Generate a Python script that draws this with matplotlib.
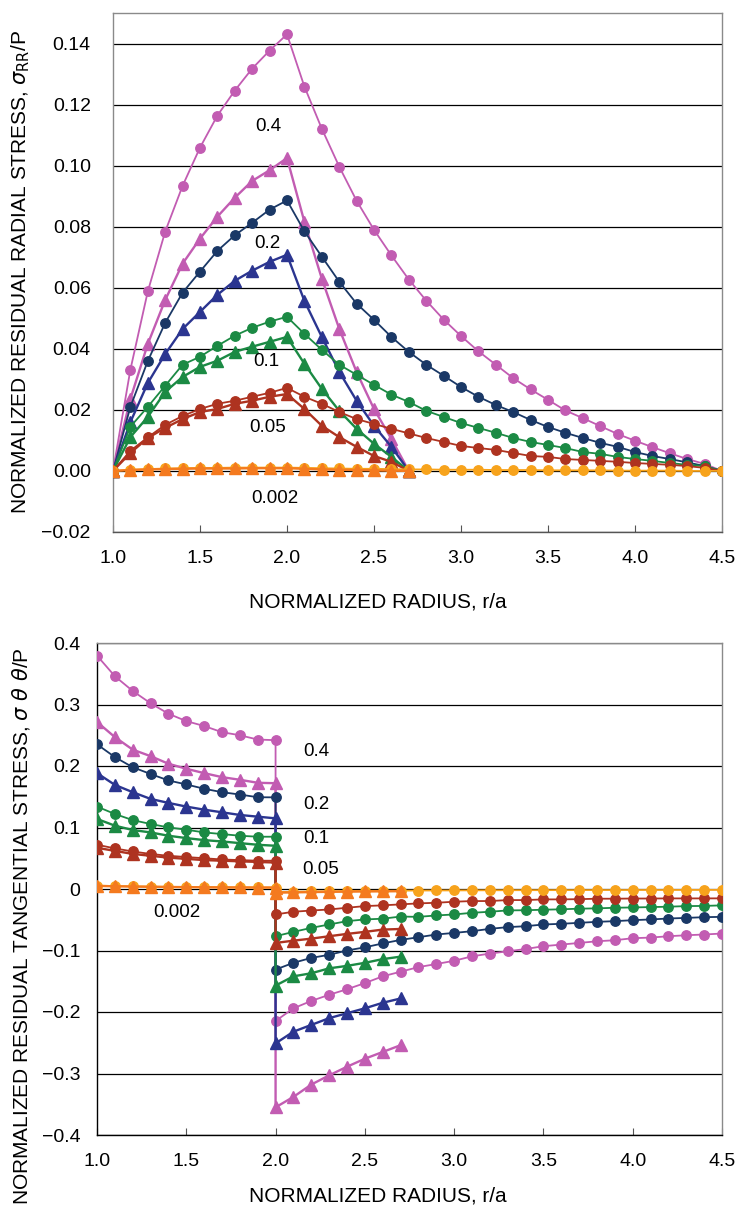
import numpy as np
import matplotlib
matplotlib.use("Agg")
import matplotlib.pyplot as plt

# ---------------- data ----------------
r_circ = np.round(np.arange(1.0, 4.51, 0.1), 1)      # outer radius 4.5
r_tri = np.round(np.arange(1.0, 2.71, 0.1), 1)       # outer radius 2.7
levels = ["0.4", "0.2", "0.1", "0.05", "0.002"]

# radial stress, circles (r = 1.0 .. 4.5)
rad_circ_04 = [0, 0.0332, 0.0588, 0.0784, 0.0934, 0.1059, 0.1164, 0.1246, 0.1318, 0.1377, 0.1430,
               0.1259, 0.1121, 0.0997, 0.0885, 0.0790, 0.0706, 0.0627, 0.0558, 0.0496, 0.0442,
               0.0392, 0.0348, 0.0304, 0.0267, 0.0233, 0.0198, 0.0173, 0.0147, 0.0121, 0.0099,
               0.0078, 0.0058, 0.0039, 0.0023, 0.0]
rad_circ_02 = [0, 0.0210, 0.0360, 0.0485, 0.0584, 0.0653, 0.0721, 0.0772, 0.0813, 0.0856, 0.0886,
               0.0785, 0.0702, 0.0620, 0.0548, 0.0495, 0.0439, 0.0390, 0.0348, 0.0312, 0.0275,
               0.0243, 0.0216, 0.0193, 0.0167, 0.0144, 0.0125, 0.0108, 0.0092, 0.0079, 0.0062,
               0.0049, 0.0039, 0.0028, 0.0016, 0.0]
rad_circ_01 = [0, 0.0145, 0.0210, 0.0279, 0.0348, 0.0374, 0.0410, 0.0443, 0.0469, 0.0489, 0.0505,
               0.0449, 0.0397, 0.0348, 0.0315, 0.0282, 0.0250, 0.0226, 0.0197, 0.0177, 0.0157,
               0.0141, 0.0125, 0.0108, 0.0095, 0.0085, 0.0075, 0.0062, 0.0056, 0.0046, 0.0039,
               0.0033, 0.0026, 0.0020, 0.0016, 0.0]
rad_circ_005 = [0, 0.0066, 0.0110, 0.0151, 0.0180, 0.0203, 0.0220, 0.0230, 0.0243, 0.0256, 0.0272,
                0.0243, 0.0220, 0.0193, 0.0170, 0.0154, 0.0138, 0.0123, 0.0108, 0.0095, 0.0082,
                0.0075, 0.0069, 0.0059, 0.0049, 0.0046, 0.0039, 0.0036, 0.0033, 0.0030, 0.0026,
                0.0023, 0.0020, 0.0016, 0.0010, 0.0]
rad_circ_0002 = [0, 0.0004, 0.0006, 0.0008, 0.0009, 0.0010, 0.0010, 0.0011, 0.0011, 0.0011, 0.0011,
                 0.0010, 0.0009, 0.0008, 0.0007, 0.0007, 0.0006, 0.0005, 0.0005, 0.0004, 0.0004,
                 0.0004, 0.0003, 0.0003, 0.0003, 0.0002, 0.0002, 0.0002, 0.0002, 0.0001, 0.0001,
                 0.0001, 0.0001, 0.0, 0.0, 0.0]

# radial stress, triangles (r = 1.0 .. 2.7)
rad_tri_04 = [0, 0.0236, 0.0416, 0.0560, 0.0679, 0.0761, 0.0833, 0.0895, 0.0950, 0.0985, 0.1025,
              0.0816, 0.0630, 0.0466, 0.0324, 0.0203, 0.0105, 0.0]
rad_tri_02 = [0, 0.0160, 0.0288, 0.0383, 0.0465, 0.0521, 0.0577, 0.0623, 0.0656, 0.0685, 0.0708,
              0.0557, 0.0439, 0.0325, 0.0230, 0.0148, 0.0079, 0.0]
rad_tri_01 = [0, 0.0111, 0.0177, 0.0259, 0.0308, 0.0341, 0.0361, 0.0390, 0.0407, 0.0423, 0.0439,
              0.0351, 0.0269, 0.0197, 0.0138, 0.0089, 0.0046, 0.0]
rad_tri_005 = [0, 0.0059, 0.0108, 0.0141, 0.0170, 0.0193, 0.0203, 0.0220, 0.0230, 0.0243, 0.0252,
               0.0203, 0.0148, 0.0111, 0.0079, 0.0049, 0.0030, 0.0]
rad_tri_0002 = [0, 0.0003, 0.0005, 0.0006, 0.0007, 0.0008, 0.0008, 0.0008, 0.0009, 0.0009, 0.0009,
                0.0007, 0.0005, 0.0004, 0.0003, 0.0002, 0.0001, 0.0]

# tangential stress: inner part r = 1.0 .. 2.0, outer part r = 2.0 .. outer radius
r_in = np.round(np.arange(1.0, 2.01, 0.1), 1)
r_out_circ = np.round(np.arange(2.0, 4.51, 0.1), 1)
r_out_tri = np.round(np.arange(2.0, 2.71, 0.1), 1)

tan_circ_04_in = [0.3795, 0.346, 0.322, 0.302, 0.285, 0.273, 0.265, 0.255, 0.250, 0.243, 0.242]
tan_circ_04_out = [-0.2146, -0.194, -0.182, -0.172, -0.163, -0.153, -0.1420, -0.1345, -0.127, -0.122,
                   -0.1167, -0.1095, -0.105, -0.1013, -0.0976, -0.093, -0.0904, -0.0877, -0.085,
                   -0.0833, -0.0800, -0.0790, -0.0768, -0.0752, -0.0740, -0.0724]
tan_circ_02_in = [0.2353, 0.2145, 0.198, 0.187, 0.1765, 0.170, 0.163, 0.1574, 0.1536, 0.1492, 0.149]
tan_circ_02_out = [-0.131, -0.120, -0.112, -0.107, -0.100, -0.0948, -0.0885, -0.0828, -0.0784, -0.074,
                   -0.0714, -0.0686, -0.0648, -0.062, -0.0605, -0.0577, -0.0566, -0.055, -0.0534,
                   -0.0523, -0.0507, -0.0495, -0.048, -0.047, -0.0458, -0.0453]
tan_circ_01_in = [0.134, 0.122, 0.112, 0.1057, 0.1002, 0.0964, 0.092, 0.0893, 0.0866, 0.085, 0.085]
tan_circ_01_out = [-0.0768, -0.0697, -0.0632, -0.0577, -0.0523, -0.0495, -0.0483, -0.0448, -0.0453,
                   -0.043, -0.0414, -0.0387, -0.037, -0.0348, -0.0345, -0.0337, -0.0330, -0.032,
                   -0.0315, -0.0305, -0.0300, -0.0294, -0.0288, -0.0278, -0.0275, -0.0266]
tan_circ_005_in = [0.072, 0.066, 0.061, 0.057, 0.054, 0.052, 0.050, 0.048, 0.047, 0.046, 0.046]
tan_circ_005_out = [-0.0414, -0.037, -0.035, -0.0333, -0.0305, -0.0278, -0.0266, -0.025, -0.0234,
                    -0.0224, -0.0207, -0.0196, -0.0196, -0.018, -0.018, -0.0169, -0.0169, -0.0165,
                    -0.0158, -0.0158, -0.0155, -0.0155, -0.0153, -0.0153, -0.0153, -0.0152]
tan_circ_0002_in = [0.0055, 0.0048, 0.0043, 0.0039, 0.0035, 0.0032, 0.0030, 0.0028, 0.0026, 0.0025, 0.0024]
tan_circ_0002_out = [-0.0050, -0.0045, -0.0040, -0.0037, -0.0034, -0.0031, -0.0029, -0.0027, -0.0025,
                     -0.0024, -0.0023, -0.0022, -0.0021, -0.0020, -0.0019, -0.0019, -0.0018, -0.0018,
                     -0.0017, -0.0017, -0.0016, -0.0016, -0.0016, -0.0015, -0.0015, -0.0015]

tan_tri_04_in = [0.2716, 0.247, 0.2266, 0.216, 0.2037, 0.1955, 0.1884, 0.1819, 0.1776, 0.1727, 0.172]
tan_tri_04_out = [-0.355, -0.338, -0.318, -0.303, -0.289, -0.276, -0.265, -0.254]
tan_tri_02_in = [0.1884, 0.1693, 0.1574, 0.1465, 0.140, 0.134, 0.129, 0.1247, 0.1204, 0.1176, 0.1149]
tan_tri_02_out = [-0.251, -0.232, -0.221, -0.210, -0.202, -0.194, -0.185, -0.178]
tan_tri_01_in = [0.1139, 0.103, 0.0959, 0.092, 0.0866, 0.0828, 0.0795, 0.0773, 0.0746, 0.0719, 0.0703]
tan_tri_01_out = [-0.157, -0.142, -0.137, -0.129, -0.125, -0.120, -0.114, -0.110]
tan_tri_005_in = [0.067, 0.062, 0.057, 0.054, 0.051, 0.049, 0.047, 0.046, 0.045, 0.044, 0.043]
tan_tri_005_out = [-0.0877, -0.084, -0.0807, -0.0768, -0.073, -0.0697, -0.066, -0.065]
tan_tri_0002_in = [0.0050, 0.0044, 0.0040, 0.0036, 0.0033, 0.0030, 0.0028, 0.0026, 0.0025, 0.0024, 0.0023]
tan_tri_0002_out = [-0.0060, -0.0055, -0.0050, -0.0046, -0.0043, -0.0040, -0.0038, -0.0036]

# ---------------- styles ----------------
col_circ = ["#C25CB2", "#1A3866", "#1B8A44", "#AE3320", "#F7A31C"]
col_tri = ["#C25CB2", "#2B3590", "#1B8A44", "#AE3320", "#F47A1F"]

rad_circ = [rad_circ_04, rad_circ_02, rad_circ_01, rad_circ_005, rad_circ_0002]
rad_tri = [rad_tri_04, rad_tri_02, rad_tri_01, rad_tri_005, rad_tri_0002]
tan_circ = [(tan_circ_04_in, tan_circ_04_out), (tan_circ_02_in, tan_circ_02_out),
            (tan_circ_01_in, tan_circ_01_out), (tan_circ_005_in, tan_circ_005_out),
            (tan_circ_0002_in, tan_circ_0002_out)]
tan_tri = [(tan_tri_04_in, tan_tri_04_out), (tan_tri_02_in, tan_tri_02_out),
           (tan_tri_01_in, tan_tri_01_out), (tan_tri_005_in, tan_tri_005_out),
           (tan_tri_0002_in, tan_tri_0002_out)]

plt.rcParams['font.family'] = ['Liberation Sans', 'DejaVu Sans']
tick_font = {'family': ['Liberation Sans Narrow', 'Liberation Sans', 'DejaVu Sans'], 'size': 14}

W, H = 735, 1213
fig = plt.figure(figsize=(W / 100, H / 100), dpi=100)

def px_axes(left, top, right, bottom):
    return fig.add_axes([left / W, 1 - bottom / H, (right - left) / W, (bottom - top) / H])

ax1 = px_axes(113, 13, 722, 532)
ax2 = px_axes(97, 643, 722, 1135)

ms_c, ms_t, lw = 6.8, 8.6, 1.3

def style(ax, ylim, yticks, ylabels, ypad):
    ax.set_xlim(1.0, 4.5)
    ax.set_ylim(*ylim)
    ax.set_yticks(yticks)
    ax.set_yticklabels(ylabels, fontdict=tick_font)
    ax.set_xticks(np.arange(1.0, 4.51, 0.5))
    ax.set_xticklabels([f"{v:.1f}" for v in np.arange(1.0, 4.51, 0.5)], fontdict=tick_font)
    ax.tick_params(axis='x', direction='in', length=5, width=0.8, color='#555555', pad=13)
    ax.tick_params(axis='y', length=0, pad=ypad)
    ax.grid(axis='y', color='black', linewidth=0.9)
    ax.set_axisbelow(True)
    for s in ax.spines.values():
        s.set_color('#8a8a8a')
        s.set_linewidth(1.0)

# ---- top: radial ----
for i in range(5):
    ax1.plot(r_circ, rad_circ[i], '-o', color=col_circ[i], ms=ms_c, lw=lw, zorder=3 + i * 0.1)
    ax1.plot(r_tri, rad_tri[i], '-^', color=col_tri[i], ms=ms_t, lw=lw + 0.4, zorder=3 + i * 0.1)

yt1 = np.round(np.arange(-0.02, 0.141, 0.02), 2)
style(ax1, (-0.02, 0.15), yt1, [f"{v:.2f}".replace('-', '\u2212') for v in yt1], 16)
ax1.spines['bottom'].set_color('#555555')

lab1 = [(1.89, 0.1128), (1.89, 0.0744), (1.88, 0.0357), (1.89, 0.0141), (1.93, -0.0089)]
for (x, y), t in zip(lab1, levels):
    ax1.text(x, y, t, ha='center', va='center', fontsize=13.5, zorder=10)

# ---- bottom: tangential ----
for i in range(5):
    ci, co = tan_circ[i]
    ti, to = tan_tri[i]
    ax2.plot(np.concatenate([r_in, r_out_circ]), np.concatenate([ci, co]), '-o',
             color=col_circ[i], ms=ms_c, lw=lw, zorder=3 + i * 0.1)
    ax2.plot(np.concatenate([r_in, r_out_tri]), np.concatenate([ti, to]), '-^',
             color=col_tri[i], ms=ms_t, lw=lw + 0.4, zorder=3 + i * 0.1)

yt2 = np.round(np.arange(-0.4, 0.41, 0.1), 1)
style(ax2, (-0.4, 0.4), yt2,
      ['0' if abs(v) < 1e-9 else f"{v:.1f}".replace('-', '\u2212') for v in yt2], 12)
ax2.spines['left'].set_color('black')
ax2.spines['bottom'].set_color('black')

lab2 = [(2.23, 0.224), (2.23, 0.137), (2.23, 0.082), (2.25, 0.031), (1.45, -0.039)]
for (x, y), t in zip(lab2, levels):
    ax2.text(x, y, t, ha='center', va='center', fontsize=13.5, zorder=10)

# axis labels
fig.text(378 / W, 1 - 602 / H, 'NORMALIZED RADIUS, r/a', ha='center', va='center', fontsize=15)
fig.text(378 / W, 1 - 1196 / H, 'NORMALIZED RADIUS, r/a', ha='center', va='center', fontsize=15)
fig.text(21 / W, 1 - 272 / H, r'NORMALIZED RESIDUAL RADIAL STRESS, $\sigma_{\mathrm{RR}}$/P',
         rotation=90, ha='center', va='center', fontsize=15)
fig.text(21 / W, 1 - 926 / H, r'NORMALIZED RESIDUAL TANGENTIAL STRESS, $\sigma\ \theta\ \theta$/P',
         rotation=90, ha='center', va='center', fontsize=15)

fig.savefig('out.png', dpi=100)
